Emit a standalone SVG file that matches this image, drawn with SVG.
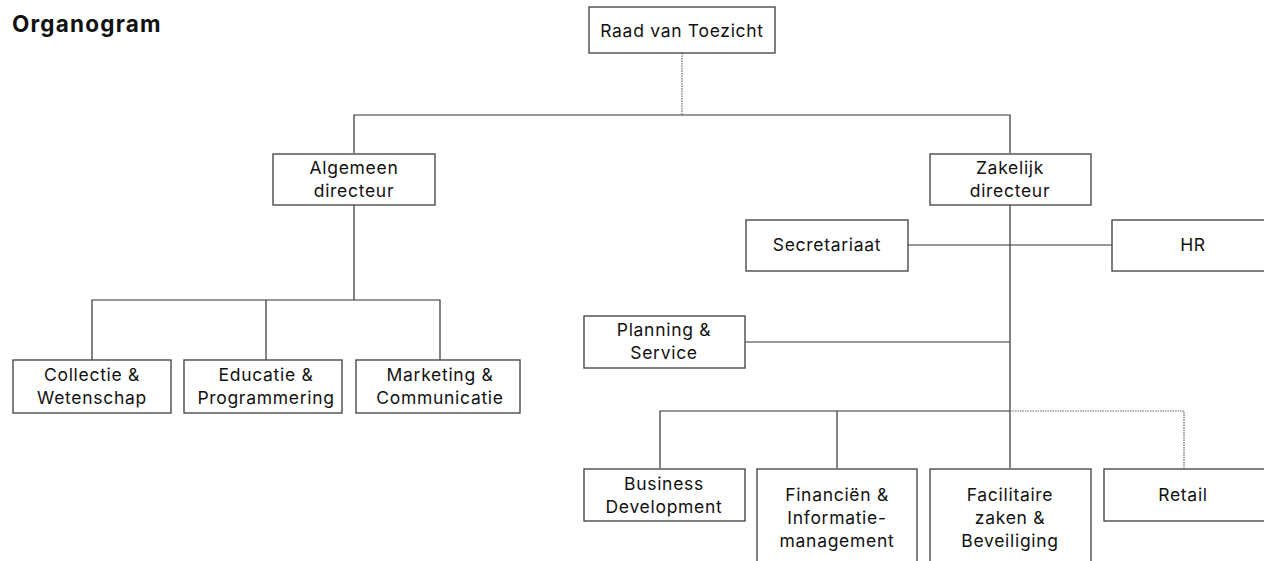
<svg xmlns="http://www.w3.org/2000/svg" width="1264" height="561" viewBox="0 0 1264 561">
<style>
.box{fill:#fff;stroke:#4a4a4a;stroke-width:1.4}
.t{font-family:Inter,"Liberation Sans",sans-serif;font-size:17.5px;letter-spacing:0.7px;fill:#111;text-anchor:middle}
.ln{stroke:#333;stroke-width:1.2;fill:none}
.dot{stroke:#666;stroke-width:1.2;fill:none;stroke-dasharray:1.5 1}
</style>
<rect width="1264" height="561" fill="#fff"/>
<text x="12" y="32" font-family="Inter,'Liberation Sans',sans-serif" font-size="22.5" font-weight="bold" letter-spacing="1.2" fill="#111">Organogram</text>
<g id="connectors">
<path class="dot" d="M682 53V115"/>
<path class="ln" d="M354 153V115H1010V153"/>
<path class="ln" d="M354 205V300M92 360V300H440V360M266 300V360"/>
<path class="ln" d="M1010 205V468M908 245H1112M745 342H1010"/>
<path class="ln" d="M660 468V411H1010M837 411V468"/>
<path class="dot" d="M1010 411H1184V468"/>
</g>
<g id="raad"><rect class="box" x="589" y="7" width="186" height="46"/><text class="t" x="682" y="37">Raad van Toezicht</text></g>
<g id="algemeen"><rect class="box" x="273" y="154" width="162" height="51"/><text class="t" x="354" y="174">Algemeen</text><text class="t" x="354" y="197">directeur</text></g>
<g id="zakelijk"><rect class="box" x="930" y="154" width="161" height="51"/><text class="t" x="1010" y="174">Zakelijk</text><text class="t" x="1010" y="197">directeur</text></g>
<g id="secretariaat"><rect class="box" x="746" y="220" width="162" height="51"/><text class="t" x="827" y="251">Secretariaat</text></g>
<g id="hr"><rect class="box" x="1112" y="220" width="160" height="51"/><text class="t" x="1193" y="251">HR</text></g>
<g id="planning"><rect class="box" x="584" y="316" width="161" height="52"/><text class="t" x="664" y="336">Planning &amp;</text><text class="t" x="664" y="359">Service</text></g>
<g id="collectie"><rect class="box" x="13" y="360" width="158" height="53"/><text class="t" x="92" y="381">Collectie &amp;</text><text class="t" x="92" y="404">Wetenschap</text></g>
<g id="educatie"><rect class="box" x="184" y="360" width="158" height="53"/><text class="t" x="266" y="381">Educatie &amp;</text><text class="t" x="266" y="404">Programmering</text></g>
<g id="marketing"><rect class="box" x="356" y="360" width="164" height="53"/><text class="t" x="440" y="381">Marketing &amp;</text><text class="t" x="440" y="404">Communicatie</text></g>
<g id="business"><rect class="box" x="584" y="469" width="161" height="52"/><text class="t" x="664" y="490">Business</text><text class="t" x="664" y="513">Development</text></g>
<g id="financien"><rect class="box" x="757" y="469" width="160" height="100"/><text class="t" x="837" y="501">Financiën &amp;</text><text class="t" x="837" y="524">Informatie-</text><text class="t" x="837" y="547">management</text></g>
<g id="facilitaire"><rect class="box" x="930" y="469" width="161" height="100"/><text class="t" x="1010" y="501">Facilitaire</text><text class="t" x="1010" y="524">zaken &amp;</text><text class="t" x="1010" y="547">Beveiliging</text></g>
<g id="retail"><rect class="box" x="1104" y="469" width="165" height="52"/><text class="t" x="1183" y="501">Retail</text></g>
</svg>
